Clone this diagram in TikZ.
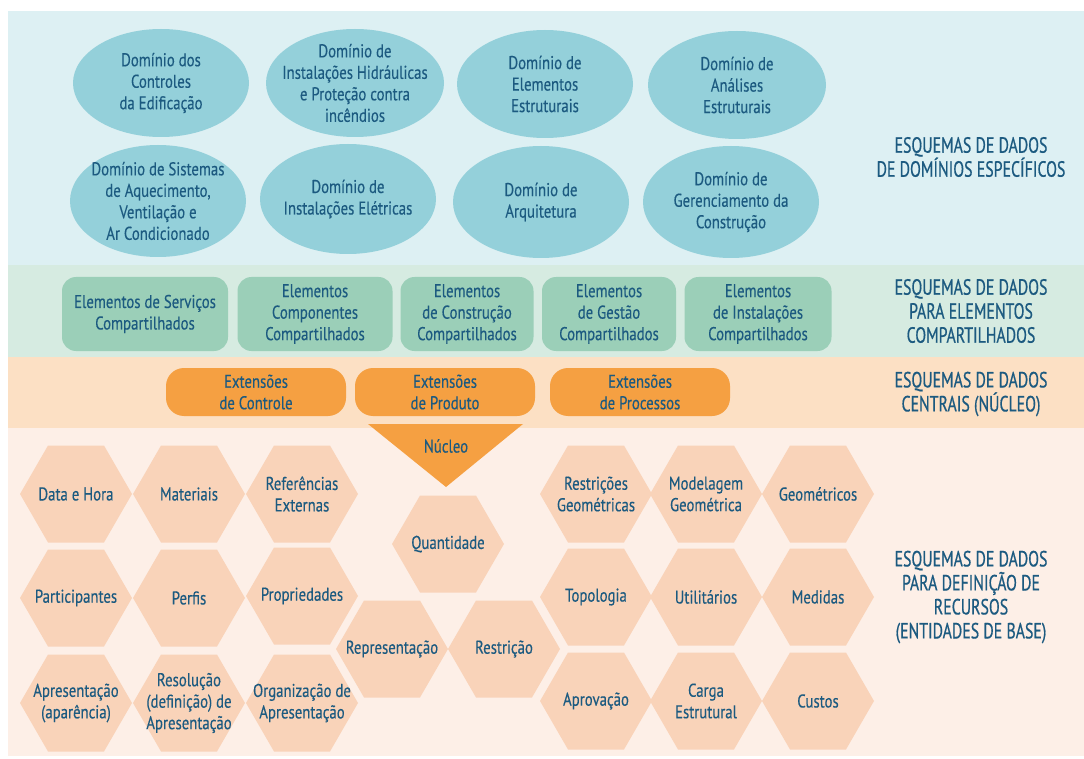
\documentclass[tikz,border=0pt]{standalone}
\usepackage{fontspec}
\setmainfont{PT Sans}
\newfontfamily\bodyfont{PT Sans}[FakeStretch=0.8, FakeBold=0.3]
\newfontfamily\headfont{PT Sans}[FakeStretch=0.72, FakeBold=0.6]
\usetikzlibrary{shapes.geometric}

\definecolor{ink}{HTML}{1C5A80}
\definecolor{domband}{HTML}{DDF0F3}
\definecolor{domfill}{HTML}{94D0DA}
\definecolor{elemband}{HTML}{D6EBE1}
\definecolor{elemfill}{HTML}{9BCFB8}
\definecolor{coreband}{HTML}{FCE0C4}
\definecolor{corefill}{HTML}{F5A042}
\definecolor{baseband}{HTML}{FDEFE7}
\definecolor{basefill}{HTML}{F9D3B9}

\begin{document}
\begin{tikzpicture}[x=1pt, y=-1pt,
    every node/.style={text=ink, align=center},
    txt/.style={font=\bodyfont\fontsize{18.5}{21.5}\selectfont},
    dom/.style={txt, ellipse, fill=domfill, inner sep=-20pt,
                minimum width=176pt, minimum height=108pt},
    elem/.style={txt, fill=elemfill, rounded corners=14pt, inner sep=0pt,
                 minimum height=74pt},
    ext/.style={txt, fill=corefill, rounded corners=18pt, inner sep=0pt,
                minimum width=180pt, minimum height=48pt},
    hexa/.style={txt, regular polygon, regular polygon sides=6, fill=basefill,
                 inner sep=-20pt, minimum size=112pt},
    layer/.style={font=\headfont\fontsize{22}{24}\selectfont}]

  \useasboundingbox (0,0) rectangle (1084,759);
  \fill[white] (0,0) rectangle (1084,759);
  \fill[domband]  (8,11)  rectangle (1084,265);
  \fill[elemband] (8,265) rectangle (1084,357);
  \fill[coreband] (8,357) rectangle (1084,428);
  \fill[baseband] (8,428) rectangle (1084,756);

  % specific domains
  \node[dom] (dCtrl) at (161,83) {Domínio dos\\Controles\\da Edificação};
  \node[dom, minimum width=178pt] (dHidr) at (355,83)
    {Domínio de\\Instalações Hidráulicas\\e Proteção contra\\incêndios};
  \node[dom] (dEstr) at (545,84) {Domínio de\\Elementos\\Estruturais};
  \node[dom, minimum width=178pt] (dAnal) at (737,85)
    {Domínio de\\Análises\\Estruturais};
  \node[dom, minimum height=112pt] (dHvac) at (158,201)
    {Domínio de Sistemas\\de Aquecimento,\\Ventilação e\\Ar Condicionado};
  \node[dom, minimum height=110pt] (dElet) at (348,199)
    {Domínio de\\Instalações Elétricas};
  \node[dom, minimum height=112pt] (dArq) at (541,202) {Domínio de\\Arquitetura};
  \node[dom, minimum height=112pt] (dGer) at (731,202)
    {Domínio de\\Gerenciamento da\\Construção};
  \node[layer] (lDom) at (971,157) {ESQUEMAS DE DADOS\\DE DOMÍNIOS ESPECÍFICOS};

  % shared elements
  \node[elem, minimum width=166pt] (eServ) at (145,314)
    {Elementos de Serviços\\Compartilhados};
  \node[elem, minimum width=155pt] (eComp) at (315,314)
    {Elementos\\Componentes\\Compartilhados};
  \node[elem, minimum width=133pt] (eCons) at (467,314)
    {Elementos\\de Construção\\Compartilhados};
  \node[elem, minimum width=134pt] (eGest) at (609,314)
    {Elementos\\de Gestão\\Compartilhados};
  \node[elem, minimum width=147pt] (eInst) at (758,314)
    {Elementos\\de Instalações\\Compartilhados};
  \node[layer] (lElem) at (971,311)
    {ESQUEMAS DE DADOS\\PARA ELEMENTOS\\COMPARTILHADOS};

  % core
  \node[ext] (xCtrl) at (256,392) {Extensões\\de Controle};
  \node[ext] (xProd) at (445,392) {Extensões\\de Produto};
  \node[ext] (xProc) at (640,392) {Extensões\\de Processos};
  \fill[corefill] (368,424) -- (523,424) -- (446,487) -- cycle;
  \node[txt] (nucleo) at (446,446) {Núcleo};
  \node[layer] (lCore) at (971,394) {ESQUEMAS DE DADOS\\CENTRAIS (NÚCLEO)};

  % resource entities
  \node[hexa] (hData)  at (76,494)  {Data e Hora};
  \node[hexa] (hMat)   at (189,494) {Materiais};
  \node[hexa] (hRef)   at (302,494) {Referências\\Externas};
  \node[hexa] (hPart)  at (76,598)  {Participantes};
  \node[hexa] (hPerf)  at (189,598) {Perfis};
  \node[hexa] (hProp)  at (302,596) {Propriedades};
  \node[hexa] (hApar)  at (76,703)  {Apresentação\\(aparência)};
  \node[hexa] (hResol) at (189,703) {Resolução\\(definição) de\\Apresentação};
  \node[hexa] (hOrg)   at (302,703) {Organização de\\Apresentação};
  \node[hexa] (hQuant) at (448,544) {Quantidade};
  \node[hexa] (hRepr)  at (392,649) {Representação};
  \node[hexa] (hRestr) at (504,649) {Restrição};
  \node[hexa] (hRGeo)  at (596,494) {Restrições\\Geométricas};
  \node[hexa] (hModel) at (706,494) {Modelagem\\Geométrica};
  \node[hexa] (hGeom)  at (818,494) {Geométricos};
  \node[hexa] (hTopo)  at (596,597) {Topologia};
  \node[hexa] (hUtil)  at (706,597) {Utilitários};
  \node[hexa] (hMed)   at (818,597) {Medidas};
  \node[hexa] (hAprov) at (596,701) {Aprovação};
  \node[hexa] (hCarga) at (706,701) {Carga\\Estrutural};
  \node[hexa] (hCust)  at (818,701) {Custos};
  \node[layer] (lBase) at (971,597)
    {ESQUEMAS DE DADOS\\PARA DEFINIÇÃO DE\\RECURSOS\\(ENTIDADES DE BASE)};
\end{tikzpicture}
\end{document}
